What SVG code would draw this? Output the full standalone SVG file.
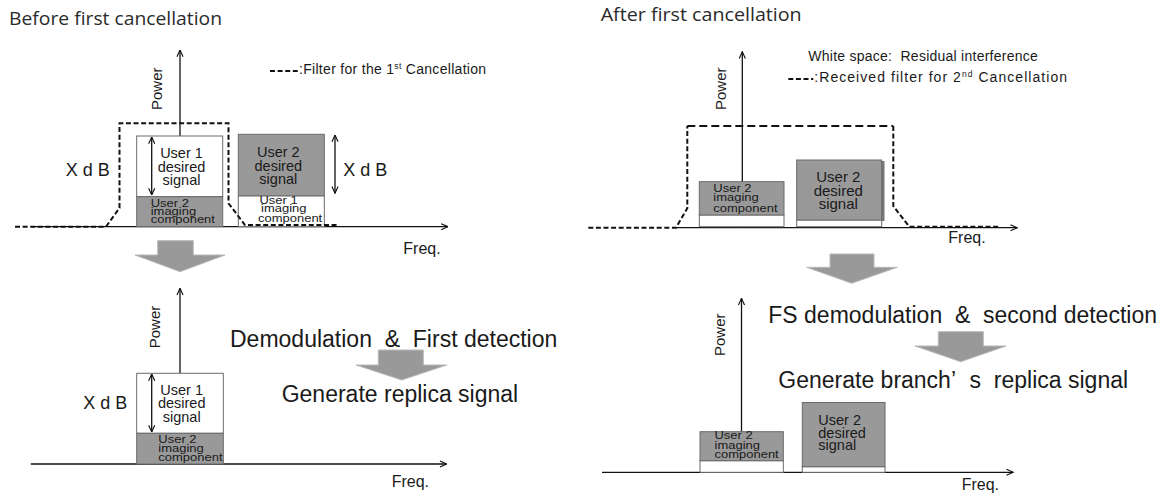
<svg xmlns="http://www.w3.org/2000/svg" width="1162" height="494" viewBox="0 0 1162 494">
<defs>
<marker id="open" viewBox="0 0 10 10" refX="9.5" refY="5" markerWidth="8" markerHeight="8" markerUnits="userSpaceOnUse" orient="auto-start-reverse">
<path d="M1,1.2 L9.5,5 L1,8.8" fill="none" stroke="#111" stroke-width="1.4"/>
</marker>
<style>
.title{font-family:"Open Sans","Noto Sans",sans-serif;font-size:18.5px;fill:#2a2a2a}
.t{font-family:"Liberation Sans",Arial,sans-serif;fill:#1a1a1a}
.big{font-size:23px}
.lbl{font-size:14.5px}
.sm{font-size:13px}
.xdb{font-size:18px}
.freq{font-size:16px}
.pw{font-size:15px}
.leg{font-size:14px}
.axis{stroke:#111;stroke-width:1.3;fill:none}
.dbl{stroke:#111;stroke-width:1.3;fill:none}
.gbox{fill:#999999;stroke:#6a6a6a;stroke-width:1}
.wbox{fill:#ffffff;stroke:#6a6a6a;stroke-width:1}
.filt{fill:none;stroke:#111;stroke-width:2;stroke-dasharray:5 2.6}
.filtlong{fill:none;stroke:#111;stroke-width:2;stroke-dasharray:8 4}
.blk{fill:#999999;stroke:#b8b8b8;stroke-width:1}
</style>
</defs>

<text class="title" x="9" y="25" textLength="213" lengthAdjust="spacingAndGlyphs">Before first cancellation</text>
<text class="title" x="600.7" y="20.7" textLength="201" lengthAdjust="spacingAndGlyphs">After first cancellation</text>

<g id="connectors">
<path class="axis" d="M31.7,226.7 H448" marker-end="url(#open)"/>
<path class="axis" d="M180,226.7 V50" marker-end="url(#open)"/>
<path class="axis" d="M30.7,464 H446.7" marker-end="url(#open)"/>
<path class="axis" d="M180,464 V288.3" marker-end="url(#open)"/>
<path class="axis" d="M676,227.7 H1017.3" marker-end="url(#open)"/>
<path class="axis" d="M742.3,227.7 V51.7" marker-end="url(#open)"/>
<path class="axis" d="M602,472.3 H1013.3" marker-end="url(#open)"/>
<path class="axis" d="M741.5,472.3 V298.3" marker-end="url(#open)"/>
<path class="blk" d="M157.7,240.7 H193.3 V255 H225 L180,271.7 L135,255 H157.7 Z"/>
<path class="blk" d="M378.3,350 H423.3 V365 H446.7 L401.7,380 L356,365 H378.3 Z"/>
<path class="blk" d="M830,254 H874 V267.3 H897.3 L851.7,283.3 L806.7,267.3 H830 Z"/>
<path class="blk" d="M938.3,331.7 H983.3 V346 H1006 L960.7,361.7 L915,346 H938.3 Z"/>
</g>

<g id="panel-before">
<rect class="wbox" x="136.7" y="136" width="86" height="60.7"/>
<rect class="gbox" x="136.7" y="196.7" width="86" height="30"/>
<rect class="gbox" x="238.3" y="134.3" width="86" height="61.7"/>
<rect class="wbox" x="238.3" y="196" width="86" height="30.7"/>
<path class="filt" d="M15,226.7 H106 L119.5,208 V123.3 H228.5 V203.3 L245,225 H336.7"/>
<path class="dbl" d="M151.7,137 V195" marker-start="url(#open)" marker-end="url(#open)"/>
<path class="dbl" d="M335,135 V193.3" marker-start="url(#open)" marker-end="url(#open)"/>
<text class="t pw" transform="translate(162,110) rotate(-90)">Power</text>
<text class="t xdb" x="65.7" y="176">X d B</text>
<text class="t xdb" x="343.3" y="176">X d B</text>
<text class="t lbl" text-anchor="middle"><tspan x="181.5" y="158.3">User 1</tspan><tspan x="181.5" y="171.7">desired</tspan><tspan x="181.5" y="185">signal</tspan></text>
<text class="t lbl" text-anchor="middle" fill="#2a2a2a"><tspan x="278.3" y="156.7">User 2</tspan><tspan x="278.3" y="170.7">desired</tspan><tspan x="278.3" y="184.3">signal</tspan></text>
<text class="t sm" transform="translate(150.7,206.5) scale(1,0.78)"><tspan x="0" y="0">User 2</tspan><tspan x="0" y="10.5">imaging</tspan><tspan x="0" y="21.5">component</tspan></text>
<text class="t sm" transform="translate(258,204) scale(1,0.78)"><tspan x="1.5" y="0">User 1</tspan><tspan x="3" y="10.6">imaging</tspan><tspan x="0" y="22.6">component</tspan></text>
<text class="t freq" x="403.3" y="254">Freq.</text>
<path d="M270,71 H297.7" stroke="#111" stroke-width="2" stroke-dasharray="5 2.6"/>
<text class="t leg" x="299" y="74" letter-spacing="0.3">:Filter for the 1<tspan font-size="8.5" dy="-5">st</tspan><tspan dy="5"> Cancellation</tspan></text>
</g>

<g id="panel-after">
<rect class="wbox" x="699.3" y="215" width="84.7" height="11.7"/>
<rect class="gbox" x="699.3" y="181.7" width="84.7" height="33.3"/>
<rect fill="#777" x="799.5" y="161" width="85" height="60"/>
<rect class="wbox" x="796.7" y="220" width="85" height="6.7"/>
<rect class="gbox" x="796.7" y="160" width="85" height="60"/>
<path class="filt" d="M588.3,227.7 H676 L687.3,208.3 V126"/>
<path class="filtlong" d="M687.3,126 H893.3"/>
<path class="filt" d="M893.3,126 V206 L909.3,226.7 H1000"/>
<text class="t pw" transform="translate(726,110) rotate(-90)">Power</text>
<text class="t sm" font-size="12" transform="translate(713.3,191.7) scale(1,0.85)"><tspan x="0" y="0">User 2</tspan><tspan x="0" y="10.9">imaging</tspan><tspan x="0" y="23.5">component</tspan></text>
<text class="t" font-size="15" text-anchor="middle" fill="#2a2a2a"><tspan x="838.3" y="181.7">User 2</tspan><tspan x="838.3" y="196">desired</tspan><tspan x="838.3" y="209.3">signal</tspan></text>
<text class="t freq" x="948.3" y="243.3">Freq.</text>
<text class="t leg" x="808.3" y="61" xml:space="preserve" letter-spacing="0.25">White space:  Residual interference</text>
<path d="M788.3,79 H813.3" stroke="#111" stroke-width="2" stroke-dasharray="5 2.6"/>
<text class="t leg" x="814.3" y="81.7" letter-spacing="1.05">:Received filter for 2<tspan font-size="8.5" dy="-5">nd</tspan><tspan dy="5"> Cancellation</tspan></text>
</g>

<g id="panel-first-detection">
<rect class="wbox" x="136.7" y="373.3" width="86.6" height="60"/>
<rect class="gbox" x="136.7" y="433.3" width="86.6" height="30.7"/>
<path class="dbl" d="M151.7,374 V432" marker-start="url(#open)" marker-end="url(#open)"/>
<text class="t pw" transform="translate(159.5,348.3) rotate(-90)">Power</text>
<text class="t xdb" x="83.3" y="409">X d B</text>
<text class="t lbl" text-anchor="middle"><tspan x="181.7" y="395">User 1</tspan><tspan x="181.7" y="408.3">desired</tspan><tspan x="181.7" y="422.3">signal</tspan></text>
<text class="t sm" font-size="12" transform="translate(158.3,443.3) scale(1,0.78)"><tspan x="0" y="0">User 2</tspan><tspan x="0" y="11.5">imaging</tspan><tspan x="0" y="22.7">component</tspan></text>
<text class="t freq" x="391.7" y="486.7">Freq.</text>
<text class="t big" x="230" y="347.3" xml:space="preserve">Demodulation  &amp;  First detection</text>
<text class="t big" x="281.7" y="401.7">Generate replica signal</text>
</g>

<g id="panel-second-detection">
<rect class="wbox" x="700" y="460.7" width="83.3" height="11.6"/>
<rect class="gbox" x="700" y="431.7" width="83.3" height="29"/>
<rect class="wbox" x="802.3" y="466.7" width="82.7" height="5.6"/>
<rect class="gbox" x="802.3" y="402.5" width="82.7" height="64.2"/>
<text class="t pw" transform="translate(724.5,356) rotate(-90)">Power</text>
<text class="t sm" font-size="11.8" transform="translate(714.5,438.5) scale(1,0.85)"><tspan x="0" y="0">User 2</tspan><tspan x="0" y="11.8">imaging</tspan><tspan x="0" y="23.5">component</tspan></text>
<text class="t" font-size="14.5" fill="#2a2a2a"><tspan x="818.3" y="425">User 2</tspan><tspan x="818.3" y="437.7">desired</tspan><tspan x="818.3" y="450">signal</tspan></text>
<text class="t freq" x="961.7" y="490">Freq.</text>
<text class="t big" x="768.3" y="323.3" xml:space="preserve">FS demodulation  &amp;  second detection</text>
<text class="t big" x="778.3" y="388" xml:space="preserve">Generate branch’ <tspan dx="8">s</tspan>  replica signal</text>
</g>
</svg>
